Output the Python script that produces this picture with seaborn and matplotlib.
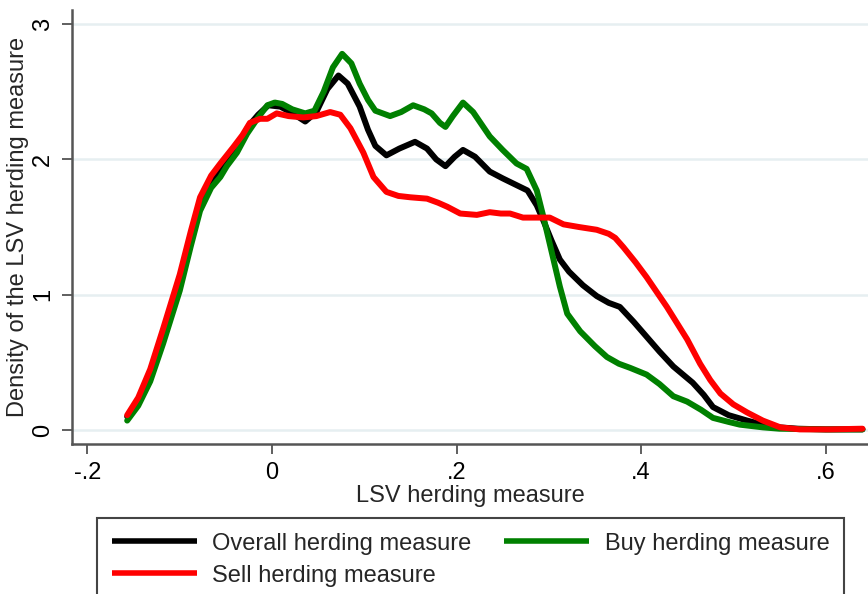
import numpy as np
import pandas as pd
import matplotlib
matplotlib.use("Agg")
import matplotlib.pyplot as plt
import seaborn as sns

# ---- data ----
overall_x = [-0.157, -0.145, -0.132, -0.118, -0.100, -0.088, -0.078, -0.066, -0.056, -0.045,
             -0.035, -0.025, -0.015, -0.004, 0.009, 0.020, 0.036, 0.048, 0.060, 0.072,
             0.082, 0.095, 0.104, 0.112, 0.124, 0.138, 0.155, 0.168, 0.178, 0.188,
             0.198, 0.207, 0.220, 0.236, 0.250, 0.265, 0.277, 0.287, 0.294, 0.303,
             0.312, 0.322, 0.337, 0.352, 0.365, 0.377, 0.392, 0.406, 0.420, 0.435,
             0.456, 0.468, 0.478, 0.495, 0.515, 0.532, 0.550, 0.570, 0.600, 0.640]
overall_y = [0.10, 0.22, 0.42, 0.70, 1.10, 1.42, 1.68, 1.84, 1.93, 2.03,
             2.13, 2.25, 2.33, 2.40, 2.39, 2.35, 2.28, 2.35, 2.52, 2.62,
             2.56, 2.39, 2.22, 2.10, 2.03, 2.08, 2.13, 2.08, 2.00, 1.95,
             2.02, 2.07, 2.02, 1.91, 1.86, 1.81, 1.77, 1.66, 1.55, 1.40,
             1.26, 1.17, 1.07, 0.99, 0.94, 0.91, 0.80, 0.69, 0.58, 0.47,
             0.35, 0.26, 0.17, 0.11, 0.07, 0.04, 0.02, 0.01, 0.005, 0.005]

buy_x = [-0.157, -0.145, -0.132, -0.118, -0.100, -0.088, -0.078, -0.066, -0.056, -0.049,
         -0.038, -0.027, -0.015, -0.005, 0.003, 0.011, 0.022, 0.036, 0.046, 0.056,
         0.066, 0.076, 0.086, 0.095, 0.104, 0.112, 0.128, 0.140, 0.153, 0.165,
         0.173, 0.182, 0.188, 0.196, 0.207, 0.218, 0.236, 0.250, 0.265, 0.276,
         0.287, 0.294, 0.303, 0.312, 0.320, 0.334, 0.350, 0.363, 0.376, 0.388,
         0.406, 0.420, 0.435, 0.450, 0.465, 0.478, 0.495, 0.507, 0.532, 0.550,
         0.600, 0.640]
buy_y = [0.07, 0.18, 0.36, 0.64, 1.03, 1.36, 1.62, 1.79, 1.87, 1.95,
         2.05, 2.19, 2.31, 2.40, 2.42, 2.41, 2.37, 2.34, 2.36, 2.50,
         2.68, 2.78, 2.71, 2.56, 2.44, 2.36, 2.32, 2.35, 2.40, 2.37,
         2.34, 2.27, 2.24, 2.32, 2.42, 2.35, 2.17, 2.07, 1.97, 1.93,
         1.77, 1.58, 1.32, 1.06, 0.86, 0.73, 0.62, 0.54, 0.49, 0.46,
         0.41, 0.34, 0.25, 0.21, 0.15, 0.09, 0.06, 0.04, 0.02, 0.01,
         0.005, 0.005]

sell_x = [-0.157, -0.145, -0.132, -0.118, -0.100, -0.088, -0.078, -0.066, -0.056, -0.042,
          -0.032, -0.024, -0.013, -0.005, 0.005, 0.018, 0.034, 0.048, 0.063, 0.074,
          0.085, 0.099, 0.110, 0.124, 0.137, 0.150, 0.168, 0.180, 0.190, 0.204,
          0.222, 0.236, 0.248, 0.258, 0.272, 0.287, 0.301, 0.316, 0.333, 0.352,
          0.365, 0.372, 0.381, 0.394, 0.406, 0.417, 0.428, 0.439, 0.450, 0.464,
          0.475, 0.486, 0.500, 0.515, 0.532, 0.551, 0.572, 0.605, 0.640]
sell_y = [0.11, 0.24, 0.45, 0.75, 1.15, 1.47, 1.72, 1.88, 1.97, 2.09,
          2.18, 2.27, 2.30, 2.30, 2.34, 2.32, 2.31, 2.32, 2.35, 2.33,
          2.23, 2.05, 1.87, 1.76, 1.73, 1.72, 1.71, 1.68, 1.65, 1.60,
          1.59, 1.61, 1.60, 1.60, 1.57, 1.57, 1.57, 1.52, 1.50, 1.48,
          1.45, 1.42, 1.35, 1.24, 1.13, 1.02, 0.91, 0.79, 0.67, 0.49,
          0.37, 0.27, 0.19, 0.13, 0.07, 0.02, 0.005, 0.005, 0.01]

series_names = ["Overall herding measure", "Buy herding measure", "Sell herding measure"]
series_colors = ["#000000", "#008000", "#ff0000"]
x_ticks = [-0.2, 0, 0.2, 0.4, 0.6]
x_tick_labels = ["-.2", "0", ".2", ".4", ".6"]
y_ticks = [0, 1, 2, 3]
y_tick_labels = ["0", "1", "2", "3"]

df = pd.concat([
    pd.DataFrame({"x": overall_x, "y": overall_y, "series": series_names[0]}),
    pd.DataFrame({"x": buy_x, "y": buy_y, "series": series_names[1]}),
    pd.DataFrame({"x": sell_x, "y": sell_y, "series": series_names[2]}),
], ignore_index=True)

sns.set_theme(style="white")
plt.rcParams["font.family"] = ["Liberation Sans", "DejaVu Sans"]
FS = 17

fig = plt.figure(figsize=(8.68, 5.94), dpi=100)
ax = fig.add_axes([72 / 868, 1 - 444 / 594, (868 - 72) / 868, (444 - 10) / 594])

sns.lineplot(data=df, x="x", y="y", hue="series", hue_order=series_names,
             palette=dict(zip(series_names, series_colors)), estimator=None,
             sort=True, linewidth=4.3, legend=False, ax=ax)
for ln in ax.lines:
    ln.set_solid_capstyle("round")
    ln.set_solid_joinstyle("round")

ax.set_xlim(-0.2168, 0.646)
ax.set_ylim(-0.103, 3.104)
ax.set_xticks(x_ticks)
ax.set_xticklabels(x_tick_labels, fontsize=FS, color="black")
ax.set_yticks(y_ticks)
ax.set_yticklabels(y_tick_labels, fontsize=FS, color="black", rotation=90, va="center")
ax.tick_params(axis="both", direction="out", length=7, width=1.2, color="#444444", pad=6,
               left=True, bottom=True)
ax.grid(axis="y", color="#e6eff1", linewidth=1.8)
ax.grid(axis="x", visible=False)
ax.set_axisbelow(True)
for side in ["top", "right"]:
    ax.spines[side].set_visible(False)
for side in ["left", "bottom"]:
    ax.spines[side].set_color("#555555")
    ax.spines[side].set_linewidth(1.8)

ax.set_xlabel("LSV herding measure", fontsize=FS, labelpad=1)
ax.set_ylabel("Density of the LSV herding measure", fontsize=FS, labelpad=2)

handles = {name: ln for name, ln in zip(series_names, ax.lines)}
order = [series_names[0], series_names[2], series_names[1]]
leg = fig.legend([handles[n] for n in order], order, ncol=2, loc="upper left",
                 bbox_to_anchor=(97 / 868, 1 - 518 / 594), fontsize=FS,
                 frameon=True, fancybox=False, framealpha=1, edgecolor="#444444",
                 handlelength=3.6, handletextpad=0.65, borderpad=0.62,
                 labelspacing=0.42, columnspacing=1.4, borderaxespad=0)
leg.get_frame().set_linewidth(1.5)
for lh in leg.get_lines():
    lh.set_linewidth(4)
    lh.set_solid_capstyle("butt")

fig.savefig("out.png", dpi=100)
